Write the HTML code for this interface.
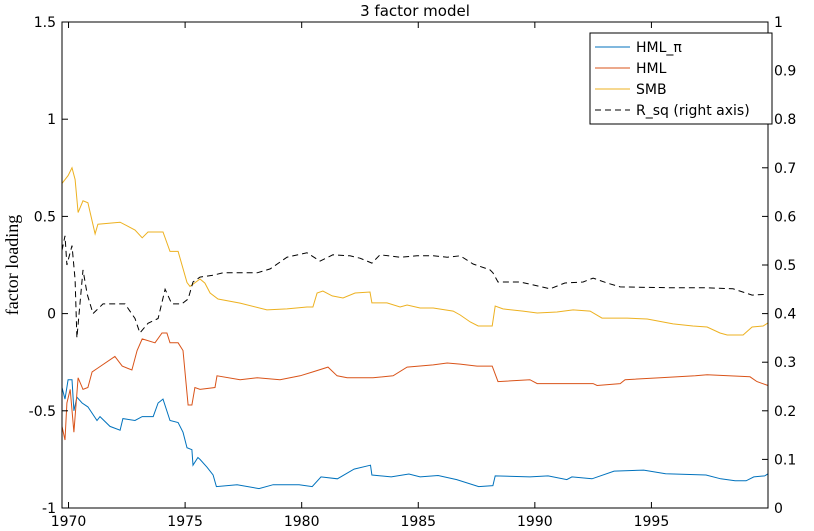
<!DOCTYPE html>
<html><head><meta charset="utf-8"><style>
html,body{margin:0;padding:0;background:#fff;}
svg{display:block;font-family:"DejaVu Sans","Liberation Sans",sans-serif;}
</style></head><body>
<svg id="chart" width="814" height="531" viewBox="0 0 814 531" xmlns="http://www.w3.org/2000/svg"></svg>
<script>
const leftTicks=[-1,-0.5,0,0.5,1,1.5];
const leftTickLabels=["-1","-0.5","0","0.5","1","1.5"];
const rightTicks=[0,0.1,0.2,0.3,0.4,0.5,0.6,0.7,0.8,0.9,1];
const rightTickLabels=["0","0.1","0.2","0.3","0.4","0.5","0.6","0.7","0.8","0.9","1"];
const xTicks=[1970,1975,1980,1985,1990,1995];
const xTickLabels=["1970","1975","1980","1985","1990","1995"];

const smbYears=[1969.72,1969.98,1970.15,1970.28,1970.41,1970.62,1970.83,1971.14,1971.26,1972.21,1972.85,1973.16,1973.41,1974.05,1974.35,1974.70,1975.08,1975.21,1975.64,1975.85,1976.07,1976.41,1977.36,1978.51,1979.37,1980.23,1980.48,1980.66,1980.91,1981.31,1981.77,1982.29,1982.93,1983.01,1983.66,1984.22,1984.52,1985.08,1985.64,1986.50,1986.80,1987.23,1987.57,1988.17,1988.30,1988.63,1989.49,1990.10,1990.95,1991.64,1992.37,1992.88,1993.96,1994.82,1995.93,1996.78,1997.39,1997.94,1998.25,1998.93,1999.32,1999.79,2000.0];
const smbValues=[0.67,0.71,0.75,0.69,0.52,0.58,0.57,0.41,0.46,0.47,0.43,0.39,0.42,0.42,0.32,0.32,0.16,0.14,0.178,0.157,0.106,0.075,0.054,0.019,0.024,0.034,0.034,0.106,0.116,0.091,0.08,0.106,0.111,0.055,0.055,0.034,0.044,0.029,0.029,0.013,-0.007,-0.043,-0.064,-0.064,0.039,0.024,0.013,0.003,0.008,0.019,0.013,-0.023,-0.023,-0.028,-0.053,-0.064,-0.069,-0.10,-0.11,-0.11,-0.069,-0.064,-0.048];

const hmlYears=[1969.72,1969.85,1969.93,1970.07,1970.23,1970.41,1970.62,1970.83,1971.01,1971.26,1971.99,1972.30,1972.72,1972.94,1973.16,1973.71,1974.01,1974.22,1974.35,1974.70,1974.91,1975.13,1975.29,1975.42,1975.64,1976.28,1976.37,1977.36,1978.09,1979.07,1979.93,1980.48,1981.13,1981.52,1981.95,1982.80,1983.06,1983.92,1984.52,1985.64,1986.24,1986.80,1987.52,1988.17,1988.42,1989.79,1990.10,1992.50,1992.67,1993.66,1993.87,1995.38,1996.88,1997.39,1999.23,1999.53,2000.0];
const hmlValues=[-0.58,-0.65,-0.46,-0.39,-0.61,-0.33,-0.39,-0.38,-0.30,-0.28,-0.22,-0.27,-0.29,-0.19,-0.13,-0.15,-0.10,-0.10,-0.15,-0.15,-0.19,-0.47,-0.47,-0.38,-0.39,-0.38,-0.32,-0.34,-0.33,-0.34,-0.32,-0.30,-0.275,-0.32,-0.33,-0.33,-0.33,-0.32,-0.275,-0.264,-0.254,-0.26,-0.27,-0.27,-0.35,-0.34,-0.36,-0.36,-0.37,-0.36,-0.34,-0.33,-0.32,-0.315,-0.325,-0.35,-0.37];

const hmlPiYears=[1969.72,1969.85,1969.98,1970.15,1970.23,1970.36,1970.58,1970.83,1971.22,1971.35,1971.78,1972.21,1972.33,1972.85,1973.16,1973.63,1973.84,1974.05,1974.35,1974.70,1974.91,1975.08,1975.29,1975.34,1975.55,1975.64,1975.94,1976.20,1976.34,1977.23,1978.17,1978.78,1979.89,1980.45,1980.83,1981.53,1982.25,1982.95,1983.01,1983.84,1984.60,1985.08,1985.85,1986.65,1987.59,1988.20,1988.30,1989.79,1990.57,1991.37,1991.59,1992.45,1993.40,1994.67,1995.61,1997.34,1997.97,1998.59,1999.06,1999.39,1999.86,2000.0];
const hmlPiValues=[-0.38,-0.44,-0.34,-0.34,-0.50,-0.43,-0.46,-0.48,-0.55,-0.53,-0.58,-0.60,-0.54,-0.55,-0.53,-0.53,-0.46,-0.44,-0.55,-0.56,-0.61,-0.69,-0.70,-0.78,-0.74,-0.75,-0.79,-0.83,-0.89,-0.88,-0.90,-0.88,-0.88,-0.89,-0.84,-0.85,-0.80,-0.78,-0.83,-0.84,-0.825,-0.84,-0.833,-0.854,-0.89,-0.885,-0.835,-0.84,-0.835,-0.854,-0.84,-0.85,-0.81,-0.805,-0.824,-0.83,-0.85,-0.86,-0.86,-0.84,-0.835,-0.824];

const rsqYears=[1969.72,1969.85,1969.93,1970.15,1970.28,1970.36,1970.62,1970.80,1971.05,1971.48,1971.99,1972.42,1972.85,1973.06,1973.41,1973.84,1974.14,1974.43,1974.86,1975.13,1975.34,1975.64,1976.20,1976.63,1978.09,1978.65,1979.07,1979.37,1980.23,1980.79,1981.34,1982.07,1982.50,1983.01,1983.36,1984.22,1984.95,1985.64,1986.24,1986.80,1987.35,1988.08,1988.20,1988.42,1989.37,1989.92,1990.65,1991.29,1992.07,1992.50,1993.10,1993.66,1995.93,1997.39,1998.50,1999.32,2000.0];
const rsqValues=[0.53,0.56,0.50,0.54,0.47,0.35,0.49,0.44,0.40,0.42,0.42,0.42,0.39,0.36,0.38,0.39,0.45,0.42,0.42,0.43,0.465,0.475,0.479,0.484,0.484,0.492,0.506,0.516,0.525,0.508,0.521,0.519,0.514,0.504,0.521,0.516,0.519,0.519,0.516,0.519,0.502,0.49,0.484,0.465,0.465,0.459,0.451,0.463,0.465,0.473,0.463,0.455,0.453,0.453,0.451,0.438,0.44];

const L=62,R=768,T=22,B=508;
const X0=1969.72,X1=2000.0;
function xs(v){return L+(v-X0)/(X1-X0)*(R-L);}
function yl(v){return B-(v-(-1))/2.5*(B-T);}
function yr(v){return B-v*(B-T);}
const svg=document.getElementById('chart');
const NS='http://www.w3.org/2000/svg';
function mk(tag,attrs,parent){const e=document.createElementNS(NS,tag);for(const k in attrs)e.setAttribute(k,attrs[k]);(parent||svg).appendChild(e);return e;}

function series(years,vals,yf,color,name,dash){
  let d='';
  for(let i=0;i<years.length;i++){d+=(i?'L':'M')+xs(years[i]).toFixed(1)+','+yf(vals[i]).toFixed(1);}
  const p=mk('path',{d:d,fill:'none',stroke:color,'stroke-width':1});
  if(dash)p.setAttribute('stroke-dasharray',dash);
  
  
}
series(hmlPiYears,hmlPiValues,yl,'#0072bd','hml-pi-line');
series(hmlYears,hmlValues,yl,'#d95319','hml-line');
series(smbYears,smbValues,yl,'#edb120','smb-line');
series(rsqYears,rsqValues,yr,'#000','r-sq-line','6,4');

const box=mk('rect',{x:L,y:T,width:R-L,height:B-T,fill:'none',stroke:'#000','stroke-width':1});



leftTicks.forEach((v,i)=>{
  const y=yl(v);
  mk('line',{x1:L,x2:L+6,y1:y,y2:y,stroke:'#000'});
  const t=mk('text',{x:L-6,y:y+5,'text-anchor':'end','font-size':14},svg);
  t.textContent=leftTickLabels[i];
  
  
});
rightTicks.forEach((v,i)=>{
  const y=yr(v);
  mk('line',{x1:R-6,x2:R,y1:y,y2:y,stroke:'#000'});
  const t=mk('text',{x:R+6,y:y+5,'text-anchor':'start','font-size':14});
  t.textContent=rightTickLabels[i];
  
  
});
xTicks.forEach((v,i)=>{
  const x=xs(v);
  mk('line',{x1:x,x2:x,y1:B,y2:B-6,stroke:'#000'});
  mk('line',{x1:x,x2:x,y1:T,y2:T+6,stroke:'#000'});
  const t=mk('text',{x:x,y:B+18,'text-anchor':'middle','font-size':14});
  t.textContent=xTickLabels[i];
  
  
});

const title=mk('text',{x:(L+R)/2,y:16,'text-anchor':'middle','font-size':15});
title.textContent='3 factor model';



const yt=mk('text',{x:0,y:0,'text-anchor':'middle','font-size':18,'font-family':'"Liberation Serif",serif',transform:'translate(18,'+((T+B)/2)+') rotate(-90)'});
yt.textContent='factor loading';



const lg=mk('g',{});


mk('rect',{x:590,y:33,width:182,height:91,fill:'#fff',stroke:'#000','stroke-width':1},lg);
const legendLabels=['HML_\u03c0','HML','SMB','R_sq (right axis)'];
const legendColors=['#0072bd','#d95319','#edb120','#000'];
legendLabels.forEach((s,i)=>{
  const y=47+i*21;
  const g=mk('g',{},lg);
  
  
  const ln=mk('line',{x1:595,x2:630,y1:y,y2:y,stroke:legendColors[i],'stroke-width':1},g);
  if(i===3)ln.setAttribute('stroke-dasharray','6,4');
  const t=mk('text',{x:636,y:y+5,'font-size':14},g);
  t.textContent=s;
});
</script>
</body></html>
